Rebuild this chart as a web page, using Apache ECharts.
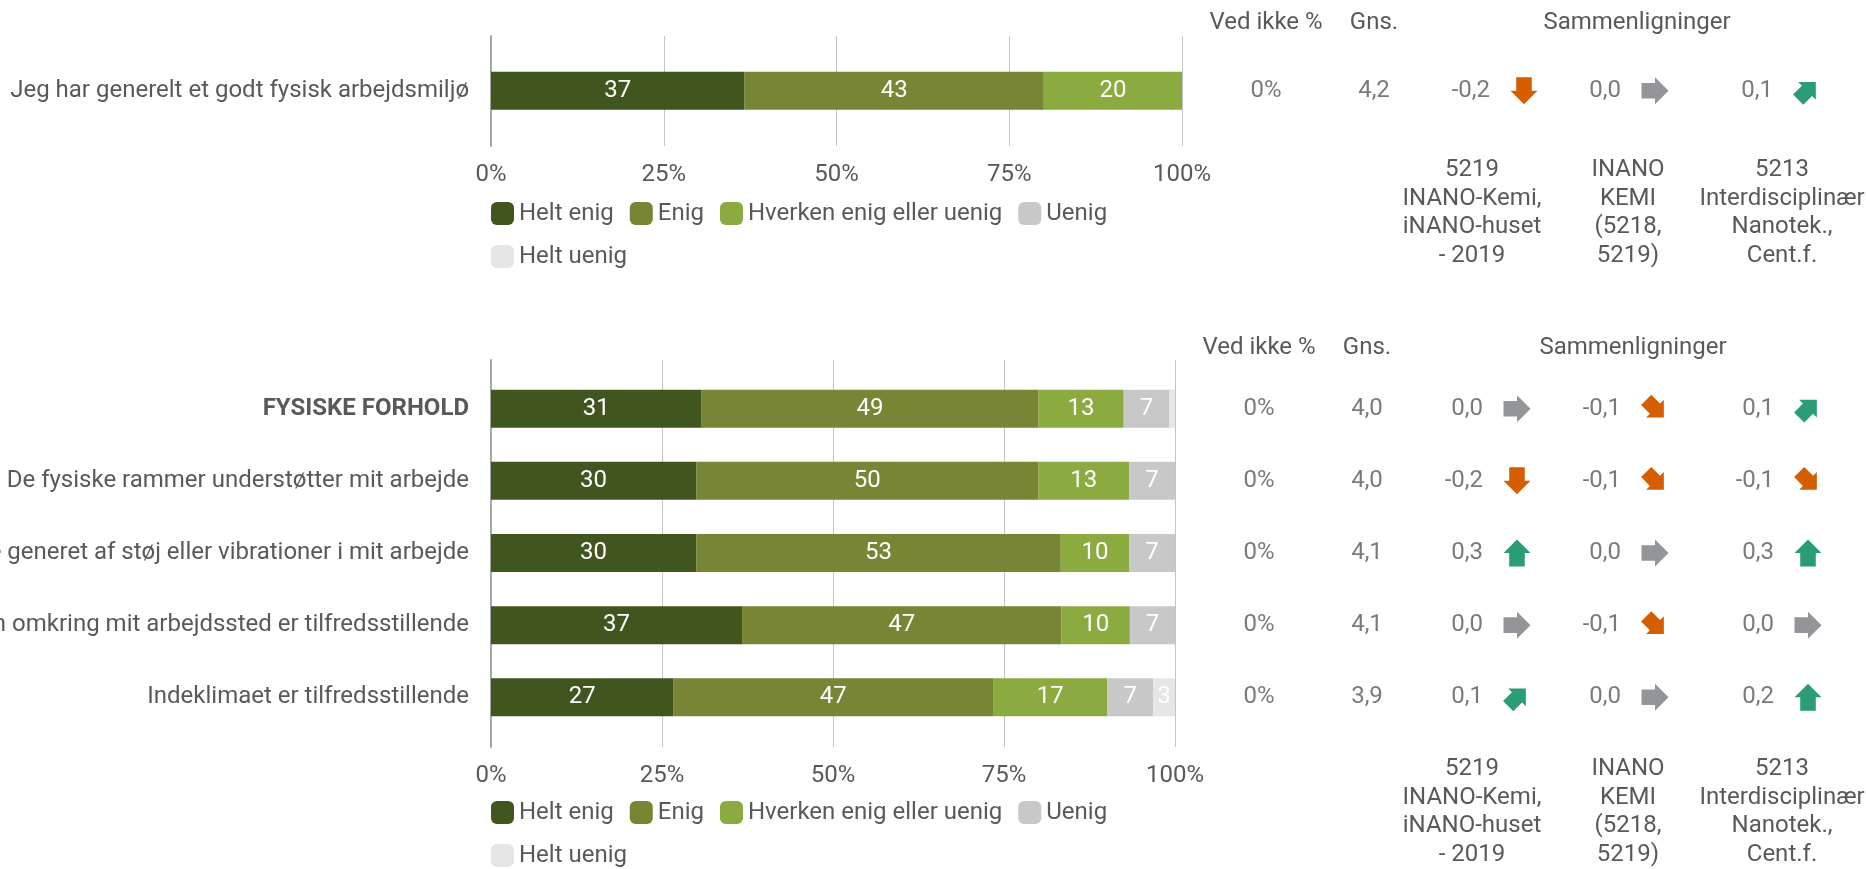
<!DOCTYPE html>
<html>
<head>
<meta charset="utf-8">
<script src="https://cdn.jsdelivr.net/npm/echarts@6/dist/echarts.min.js"></script>
<style>
html,body{margin:0;padding:0;background:#fff;}
#c{width:1866px;height:869px;}
</style>
</head>
<body>
<div id="c"></div>
<script>
// ---------- DATA ----------
const seriesNames = ['Helt enig', 'Enig', 'Hverken enig eller uenig', 'Uenig', 'Helt uenig'];
const axisTicks = [0, 25, 50, 75, 100];

const topCategories = ['Jeg har generelt et godt fysisk arbejdsmiljø'];
const topHeltEnig = [36.7];
const topEnig = [43.3];
const topHverken = [20.0];
const topUenig = [0];
const topHeltUenig = [0];
const topVedIkke = [0];
const topGns = [4.2];
const topCmp1 = [-0.2];
const topCmp2 = [0.0];
const topCmp3 = [0.1];

const botCategories = [
  'FYSISKE FORHOLD',
  'De fysiske rammer understøtter mit arbejde',
  'Jeg bliver ikke generet af støj eller vibrationer i mit arbejde',
  'Rengøringen omkring mit arbejdssted er tilfredsstillende',
  'Indeklimaet er tilfredsstillende'
];
const botHeltEnig = [30.8, 30.0, 30.0, 36.7, 26.7];
const botEnig = [49.2, 50.0, 53.3, 46.7, 46.7];
const botHverken = [12.5, 13.3, 10.0, 10.0, 16.7];
const botUenig = [6.7, 6.7, 6.7, 6.7, 6.7];
const botHeltUenig = [0.8, 0, 0, 0, 3.3];
const botVedIkke = [0, 0, 0, 0, 0];
const botGns = [4.0, 4.0, 4.1, 4.1, 3.9];
const botCmp1 = [0.0, -0.2, 0.3, 0.0, 0.1];
const botCmp2 = [-0.1, -0.1, 0.0, -0.1, 0.0];
const botCmp3 = [0.1, -0.1, 0.3, 0.0, 0.2];

const headerVedIkke = 'Ved ikke %';
const headerGns = 'Gns.';
const headerCmp = 'Sammenligninger';
const compLabels = [
  '5219\nINANO-Kemi,\niNANO-huset\n- 2019',
  'INANO\nKEMI\n(5218,\n5219)',
  '5213\nInterdisciplinær\nNanotek.,\nCent.f.'
];

// ---------- STYLE / LAYOUT ----------
const FONT = 'Roboto, "Noto Sans", sans-serif';
const TXT = '#595959';
const FS = 24;
const colors = ['#41561f', '#788535', '#8baa40', '#c8c8c8', '#e6e6e6'];
const UP = '#2a9d78', DOWN = '#d55e00', FLAT = '#939598';

const L = {
  top: {frameTop: 36, frameH: 110, dataTop: 54.8, dataH: 72, left: 491, width: 691,
        ved: 1266, gns: 1374, arrows: [1524, 1655, 1807], headY: 23, footY: 156, legendTop: 200, cmpX: 1637},
  bot: {frameTop: 360, frameH: 387, dataTop: 372.6, dataH: 360.8, left: 491, width: 684,
        ved: 1259, gns: 1367, arrows: [1517, 1655, 1808], headY: 348, footY: 755, legendTop: 799, cmpX: 1633},
  footX: [1472, 1628, 1782]
};

function fmt(v) { return v.toFixed(1).replace('.', ','); }
function arrowRot(v) {
  if (v >= 0.15) return 90;
  if (v > 0.05) return 45;
  if (v <= -0.15) return -90;
  if (v < -0.05) return -45;
  return 0;
}
function arrowCol(v) { return v > 0.05 ? UP : (v < -0.05 ? DOWN : FLAT); }
const ARROW = 'path://M0,5.5 L13,5.5 L13,0 L26,13 L13,26 L13,20.5 L0,20.5 Z';

const grids = [], xAxes = [], yAxes = [], series = [], graphics = [], legends = [];

function buildChart(key, cats, parts, vedIkke, gns, cmps) {
  const c = L[key];
  const g0 = grids.length;
  grids.push({left: c.left, top: c.frameTop, width: c.width, height: c.frameH, containLabel: false, outerBoundsMode: 'none'});
  xAxes.push({gridIndex: g0, type: 'value', min: axisTicks[0], max: axisTicks[axisTicks.length - 1],
    interval: axisTicks[1] - axisTicks[0],
    axisLine: {show: false}, axisTick: {show: false},
    splitLine: {show: true, lineStyle: {color: '#c4c4c4', width: 1}},
    axisLabel: {formatter: '{value}%', color: TXT, fontSize: FS, fontFamily: FONT, margin: 17}});
  yAxes.push({gridIndex: g0, type: 'value', min: 0, max: 1,
    axisLine: {show: true, lineStyle: {color: '#a6a6a6', width: 2}},
    axisTick: {show: false}, axisLabel: {show: false}, splitLine: {show: false}});
  const g1 = grids.length;
  grids.push({left: c.left, top: c.dataTop, width: c.width, height: c.dataH, containLabel: false, outerBoundsMode: 'none'});
  xAxes.push({gridIndex: g1, type: 'value', min: 0, max: 100, show: false});
  yAxes.push({gridIndex: g1, type: 'category', data: cats, inverse: true,
    axisLine: {show: false}, axisTick: {show: false},
    axisLabel: {color: TXT, fontSize: FS, fontFamily: FONT, margin: 22,
      formatter: (v) => v === 'FYSISKE FORHOLD' ? '{b|' + v + '}' : v,
      rich: {b: {fontWeight: 'bold', fontSize: FS, fontFamily: FONT, color: TXT}}}});
  parts.forEach((arr, k) => {
    series.push({type: 'bar', name: seriesNames[k], stack: key, xAxisIndex: g1, yAxisIndex: g1,
      barWidth: 38, data: arr, itemStyle: {color: colors[k]},
      label: {show: true, position: 'inside', color: '#fff', fontSize: FS, fontFamily: FONT,
        formatter: (p) => p.value >= 2.5 ? String(Math.round(p.value)) : ''},
      emphasis: {disabled: true}});
  });
  const g2 = grids.length;
  grids.push({left: 0, top: c.dataTop, width: 1866, height: c.dataH, containLabel: false, outerBoundsMode: 'none'});
  xAxes.push({gridIndex: g2, type: 'value', min: 0, max: 1866, show: false});
  yAxes.push({gridIndex: g2, type: 'category', data: cats, inverse: true, show: false});
  const textLabel = (align, f) => ({show: true, position: 'inside', align: align, verticalAlign: 'middle',
    color: TXT, fontSize: FS, fontFamily: FONT, formatter: f});
  const base = {type: 'scatter', xAxisIndex: g2, yAxisIndex: g2, symbolSize: 0.1,
    itemStyle: {color: 'rgba(0,0,0,0)'}, silent: true};
  series.push(Object.assign({}, base, {data: vedIkke.map((v, i) => [c.ved, i, v]),
    label: textLabel('center', (p) => p.value[2] + '%')}));
  series.push(Object.assign({}, base, {data: gns.map((v, i) => [c.gns, i, v]),
    label: textLabel('center', (p) => fmt(p.value[2]))}));
  cmps.forEach((arr, j) => {
    series.push(Object.assign({}, base, {data: arr.map((v, i) => [c.arrows[j] - 34, i, v]),
      label: textLabel('right', (p) => fmt(p.value[2]))}));
    series.push({type: 'scatter', xAxisIndex: g2, yAxisIndex: g2, silent: true, symbol: ARROW,
      data: arr.map((v, i) => {
        const r = arrowRot(v);
        return {value: [c.arrows[j], i, v], symbolRotate: r,
          symbolSize: (r === 45 || r === -45) ? 25 : 27,
          itemStyle: {color: arrowCol(v), opacity: 1}};
      })});
  });
  const hs = {fill: TXT, fontSize: FS, fontFamily: FONT, textAlign: 'center', textVerticalAlign: 'middle'};
  graphics.push({type: 'text', x: c.ved, y: c.headY, style: Object.assign({text: headerVedIkke}, hs)});
  graphics.push({type: 'text', x: c.gns, y: c.headY, style: Object.assign({text: headerGns}, hs)});
  graphics.push({type: 'text', x: c.cmpX, y: c.headY, style: Object.assign({text: headerCmp}, hs)});
  compLabels.forEach((t, j) => {
    graphics.push({type: 'text', x: L.footX[j], y: c.footY,
      style: {text: t, fill: TXT, fontSize: FS, fontFamily: FONT, textAlign: 'center',
        textVerticalAlign: 'top', lineHeight: 28.5}});
  });
  legends.push({left: c.left, top: c.legendTop, width: 700, orient: 'horizontal', padding: 0,
    data: seriesNames, icon: 'roundRect', itemWidth: 23, itemHeight: 23, itemGap: 16,
    selectedMode: false,
    textStyle: {color: TXT, fontSize: FS, fontFamily: FONT, lineHeight: 27}});
}

buildChart('top', topCategories, [topHeltEnig, topEnig, topHverken, topUenig, topHeltUenig],
  topVedIkke, topGns, [topCmp1, topCmp2, topCmp3]);
buildChart('bot', botCategories, [botHeltEnig, botEnig, botHverken, botUenig, botHeltUenig],
  botVedIkke, botGns, [botCmp1, botCmp2, botCmp3]);

const chart = echarts.init(document.getElementById('c'));
chart.setOption({
  animation: false,
  backgroundColor: '#fff',
  textStyle: {fontFamily: FONT},
  grid: grids, xAxis: xAxes, yAxis: yAxes, series: series,
  legend: legends, graphic: graphics
});
</script>
</body>
</html>
